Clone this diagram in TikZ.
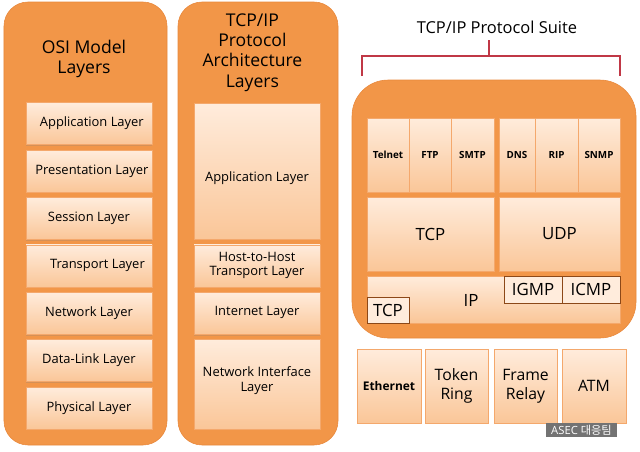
\documentclass[tikz,border=0pt]{standalone}
\usepackage{fontspec}
\setmainfont{Open Sans}
\newfontfamily\krfont{Noto Sans CJK KR}
\usepackage{tikz}
\usetikzlibrary{shapes.geometric, arrows.meta, positioning, fit, calc, shadows}
\usepackage{xcolor}
\definecolor{panelorange}{RGB}{242, 150, 72}
\definecolor{paneledge}{RGB}{232, 136, 60}
\definecolor{boxtop}{RGB}{255, 236, 220}
\definecolor{boxbot}{RGB}{250, 198, 152}
\definecolor{boxline}{RGB}{244, 168, 108}
\definecolor{darkline}{RGB}{140, 72, 24}
\definecolor{bracketred}{RGB}{192, 56, 70}

\begin{document}
\begin{tikzpicture}[
    panel/.style={draw=paneledge, fill=panelorange, rounded corners=0.6cm},
    layerbox/.style={draw=boxline, top color=boxtop, bottom color=boxbot, inner sep=1pt, align=center,
        font=\fontsize{9.2}{10.5}\selectfont, drop shadow={shadow xshift=0.2pt, shadow yshift=-1pt, opacity=0.25}},
    protobox/.style={layerbox, font=\fontsize{7}{8}\selectfont\bfseries},
    subbox/.style={draw=darkline, fill=boxtop, inner sep=1pt, font=\fontsize{12}{14}\selectfont}
]
    \useasboundingbox (0,0) rectangle (16,-11.275);

    % --- OSI Model column ---
    \node[panel, minimum width=4.075cm, minimum height=11.075cm] (osi) at (2.1375,-5.5875) {};
    \node[align=center, font=\fontsize{12.5}{14.5}\selectfont] (osititle) at (2.1,-1.475) {OSI Model\\Layers};
    \node[layerbox, minimum width=3.15cm, minimum height=1.05cm] (osiapp) at (2.225,-3.09) {\hspace{4pt}Application Layer};
    \node[layerbox, minimum width=3.15cm, minimum height=1.05cm] (osipres) at (2.225,-4.275) {\hspace{4pt}Presentation Layer};
    \node[layerbox, minimum width=3.15cm, minimum height=1.05cm] (osisess) at (2.225,-5.46) {Session Layer};
    \node[layerbox, minimum width=3.15cm, minimum height=1.05cm] (ositrans) at (2.225,-6.645) {\hspace{12pt}Transport Layer};
    \node[layerbox, minimum width=3.15cm, minimum height=1.05cm] (osinet) at (2.225,-7.83) {Network Layer};
    \node[layerbox, minimum width=3.15cm, minimum height=1.05cm] (osilink) at (2.225,-9.015) {Data-Link Layer};
    \node[layerbox, minimum width=3.15cm, minimum height=1.05cm] (osiphys) at (2.225,-10.2) {Physical Layer};

    % --- TCP/IP architecture column ---
    \node[panel, minimum width=4.0cm, minimum height=11.075cm] (arch) at (6.45,-5.5875) {};
    \node[align=center, font=\fontsize{12.5}{14.5}\selectfont] (archtitle) at (6.31,-1.31) {TCP/IP\\Protocol\\Architecture\\Layers};
    \node[layerbox, minimum width=3.15cm, minimum height=3.4cm, text height=17pt] (archapp) at (6.425,-4.275) {Application Layer};
    \node[layerbox, minimum width=3.15cm, minimum height=1.05cm, font=\fontsize{9.2}{9.8}\selectfont] (archhost) at (6.425,-6.645) {Host-to-Host\\Transport Layer};
    \node[layerbox, minimum width=3.15cm, minimum height=1.05cm] (archinet) at (6.425,-7.83) {\raisebox{4pt}{Internet Layer}};
    \node[layerbox, minimum width=3.15cm, minimum height=2.25cm] (archnetif) at (6.425,-9.6) {\raisebox{12pt}{\begin{tabular}{@{}c@{}}Network Interface\\Layer\end{tabular}}};

    % --- Protocol suite: title and bracket ---
    \node[font=\fontsize{11.7}{13}\selectfont] (suitetitle) at (12.425,-0.675) {TCP/IP Protocol Suite};
    \draw[bracketred, line width=1.1pt] (12.225,-1.0) -- (12.225,-1.4);
    \draw[bracketred, line width=1.1pt] (9.05,-1.9) -- (9.05,-1.4) -- (15.5,-1.4) -- (15.5,-1.9);

    % --- Protocol suite panel ---
    \node[panel, rounded corners=0.9cm, minimum width=7.1cm, minimum height=6.45cm] (suite) at (12.35,-5.225) {};
    \node[protobox, minimum width=1.05cm, minimum height=1.85cm] (telnet) at (9.7,-3.875) {Telnet};
    \node[protobox, minimum width=1.05cm, minimum height=1.85cm] (ftp) at (10.75,-3.875) {FTP};
    \node[protobox, minimum width=1.075cm, minimum height=1.85cm] (smtp) at (11.8125,-3.875) {SMTP};
    \node[protobox, minimum width=0.9cm, minimum height=1.85cm] (dns) at (12.925,-3.875) {DNS};
    \node[protobox, minimum width=1.075cm, minimum height=1.85cm] (rip) at (13.9125,-3.875) {RIP};
    \node[protobox, minimum width=1.05cm, minimum height=1.85cm] (snmp) at (14.975,-3.875) {SNMP};
    \node[layerbox, minimum width=3.175cm, minimum height=1.85cm, font=\fontsize{12}{14}\selectfont] (tcp) at (10.7625,-5.85) {TCP};
    \node[layerbox, minimum width=3.025cm, minimum height=1.85cm, font=\fontsize{12}{14}\selectfont] (udp) at (13.9875,-5.85) {UDP};
    \node[layerbox, minimum width=6.325cm, minimum height=1.175cm] (ip) at (12.3375,-7.4875) {};
    \node[font=\fontsize{12}{14}\selectfont] (iplabel) at (11.775,-7.5) {IP};
    \node[subbox, minimum width=1.45cm, minimum height=0.675cm] (igmp) at (13.325,-7.2375) {IGMP};
    \node[subbox, minimum width=1.45cm, minimum height=0.675cm] (icmp) at (14.775,-7.2375) {ICMP};
    \node[subbox, minimum width=1.05cm, minimum height=0.65cm] (iptcp) at (9.7,-7.75) {TCP};

    % --- Network access protocols ---
    \node[layerbox, minimum width=1.6cm, minimum height=1.85cm, font=\fontsize{8.5}{10}\selectfont\bfseries] (ethernet) at (9.725,-9.65) {Ethernet};
    \node[layerbox, minimum width=1.575cm, minimum height=1.85cm, font=\fontsize{11.2}{13.5}\selectfont] (token) at (11.4125,-9.65) {Token\\Ring};
    \node[layerbox, minimum width=1.575cm, minimum height=1.85cm, font=\fontsize{11.2}{13.5}\selectfont] (frame) at (13.1375,-9.65) {Frame\\Relay};
    \node[layerbox, minimum width=1.6cm, minimum height=1.85cm, font=\fontsize{11.2}{13.5}\selectfont] (atm) at (14.85,-9.65) {ATM};

    % --- Watermark ---
    \node[fill=black!55, text=white, inner sep=1pt, minimum width=1.775cm, minimum height=0.35cm,
        font=\fontsize{8}{9}\selectfont] (mark) at (14.5375,-10.75) {ASEC {\krfont 대응팀}};
\end{tikzpicture}
\end{document}
